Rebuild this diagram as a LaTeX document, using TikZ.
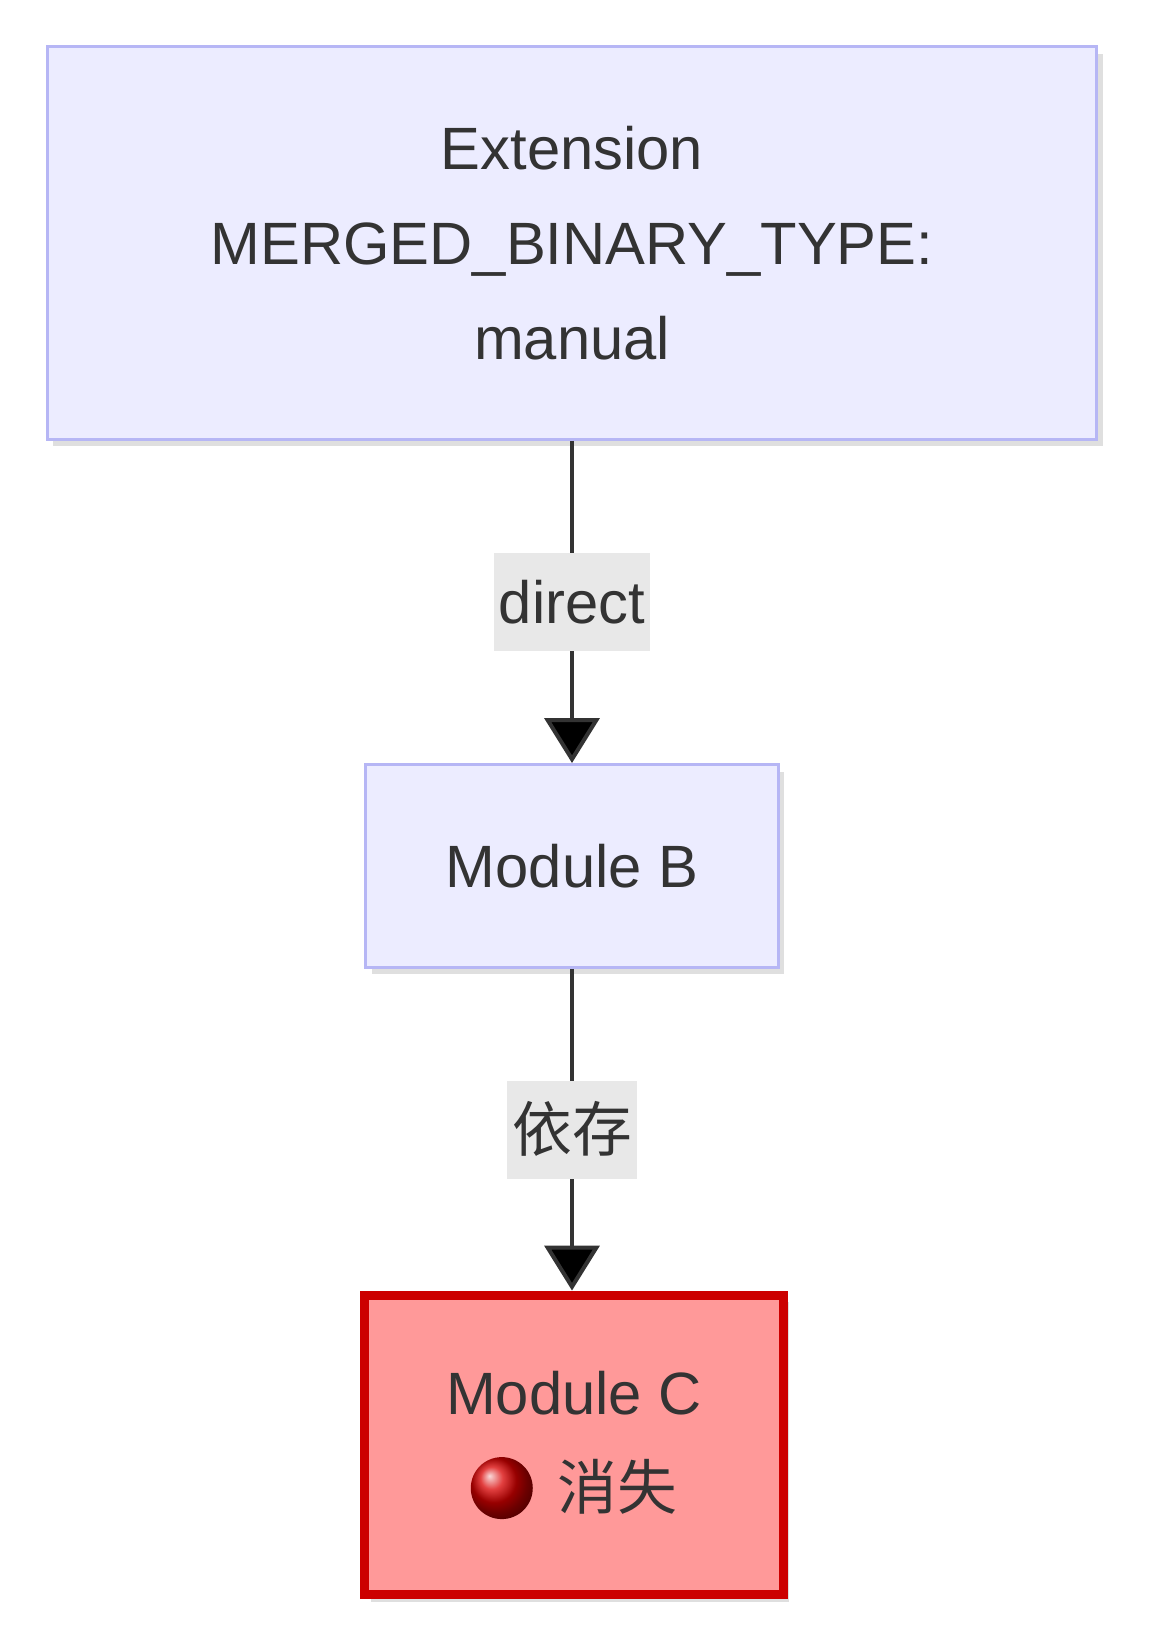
\documentclass[tikz,border=0pt]{standalone}
\usepackage{fontspec}
\setmainfont{Liberation Sans}
\newfontfamily\cjk{Noto Sans CJK SC}
\usetikzlibrary{arrows.meta,shadows}
\definecolor{boxfill}{HTML}{ECECFF}
\definecolor{boxline}{HTML}{B6B6F5}
\definecolor{lostfill}{HTML}{FF9999}
\definecolor{lostline}{HTML}{CC0000}
\definecolor{ink}{HTML}{333333}
\definecolor{tagfill}{HTML}{E8E8E8}

\begin{document}
\begin{tikzpicture}[x=0.02cm, y=-0.02cm,
    font=\fontsize{34}{54}\selectfont, text=ink,
    box/.style = {draw=boxline, fill=boxfill, line width=0.06cm, align=center,
                  drop shadow={shadow xshift=0.12cm, shadow yshift=-0.14cm, fill=black!25, opacity=0.5}},
    lost/.style = {box, draw=lostline, fill=lostfill, line width=0.18cm},
    link/.style = {draw=ink, line width=0.08cm, -{Triangle[width=1.1cm, length=0.9cm]}},
    tag/.style = {fill=tagfill, inner sep=0.1cm, text height=1.3cm, text depth=0.45cm}]
  \useasboundingbox (0,0) rectangle (1149,1642);

  \node[box, minimum width=21.0cm, minimum height=7.86cm] (ext) at (572,243)
       {Extension\\MERGED\_BINARY\_TYPE:\\manual};
  \node[box, minimum width=8.26cm, minimum height=4.06cm] (modB) at (572,866) {Module B};
  \node[lost, minimum width=8.38cm, minimum height=6.0cm] (modC) at (574,1445)
       {Module C\\\tikz[baseline=-0.42cm]\shade[ball color=red!85!black] (0,0) circle (0.62cm);\hspace{0.5cm}{\cjk 消失}};

  \draw[link] (ext) -- node[tag] {direct} (modB);
  \draw[link] (modB) -- node[tag] {\cjk 依存} (modC.north -| modB);
\end{tikzpicture}
\end{document}
